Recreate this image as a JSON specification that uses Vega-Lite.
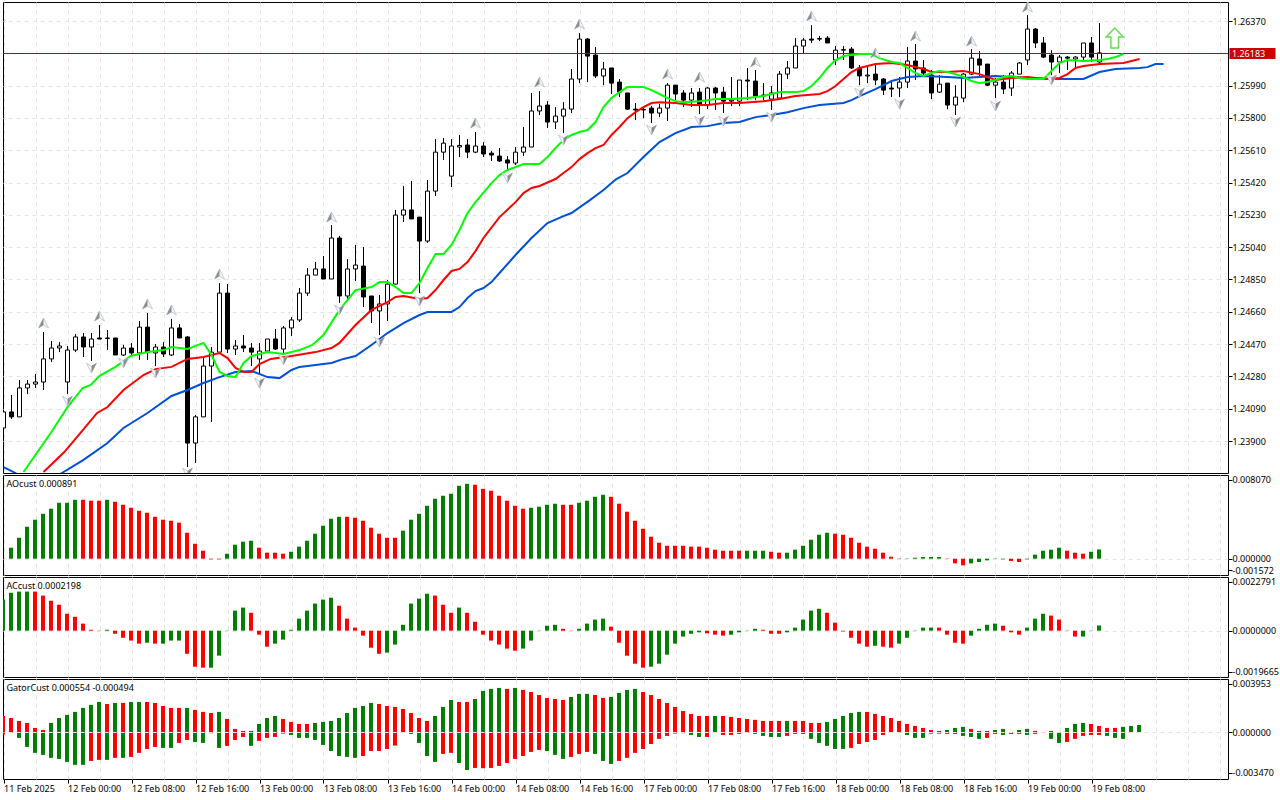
{"$schema":"https://vega.github.io/schema/vega-lite/v6.json","background":"#ffffff","padding":{"left":2,"top":1,"right":0,"bottom":0},"spacing":0,
"config":{"view":{"stroke":"#000000","strokeWidth":1},"font":"Noto Sans","axis":{"labelFont":"Noto Sans","labelFontSize":9,"labelColor":"#000000","tickColor":"#000000","domain":false,"title":null,"gridColor":"#e4e4e4","gridDash":[4,4],"gridWidth":1,"tickSize":4,"labelPadding":1,"labelOverlap":false}},
"datasets":{
"candles":[
{"i":0,"o":1.23977,"h":1.24071,"l":1.23977,"c":1.24071},{"i":1,"o":1.24071,"h":1.24171,"l":1.2403,"c":1.24042},{"i":2,"o":1.24042,"h":1.24259,"l":1.24042,"c":1.24212},{"i":3,"o":1.24212,"h":1.24259,"l":1.24176,"c":1.24235},{"i":4,"o":1.24235,"h":1.24294,"l":1.24212,"c":1.24247},{"i":5,"o":1.24247,"h":1.24541,"l":1.242,"c":1.24383},{"i":6,"o":1.24383,"h":1.24488,"l":1.24365,"c":1.24447},{"i":7,"o":1.24447,"h":1.24482,"l":1.24423,"c":1.24459},{"i":8,"o":1.24247,"h":1.24459,"l":1.24176,"c":1.24435},{"i":9,"o":1.24435,"h":1.24529,"l":1.24423,"c":1.24512},
{"i":10,"o":1.24512,"h":1.24535,"l":1.24394,"c":1.24453},{"i":11,"o":1.24453,"h":1.24535,"l":1.24371,"c":1.245},{"i":12,"o":1.24506,"h":1.24582,"l":1.245,"c":1.245},{"i":13,"o":1.24503,"h":1.24553,"l":1.24435,"c":1.24506},{"i":14,"o":1.24506,"h":1.24506,"l":1.24406,"c":1.24406},{"i":15,"o":1.24406,"h":1.24465,"l":1.244,"c":1.24447},{"i":16,"o":1.24447,"h":1.24477,"l":1.24406,"c":1.24418},{"i":17,"o":1.24418,"h":1.24606,"l":1.24377,"c":1.2457},{"i":18,"o":1.2457,"h":1.24653,"l":1.24377,"c":1.24423},{"i":19,"o":1.24418,"h":1.24471,"l":1.24341,"c":1.24453},
{"i":20,"o":1.24453,"h":1.24482,"l":1.24394,"c":1.24412},{"i":21,"o":1.24406,"h":1.24618,"l":1.244,"c":1.24565},{"i":22,"o":1.24565,"h":1.24588,"l":1.24506,"c":1.24506},{"i":23,"o":1.24512,"h":1.24517,"l":1.23747,"c":1.23888},{"i":24,"o":1.23888,"h":1.24053,"l":1.23771,"c":1.24042},{"i":25,"o":1.24042,"h":1.24394,"l":1.24042,"c":1.24341},{"i":26,"o":1.24341,"h":1.24453,"l":1.24012,"c":1.24423},{"i":27,"o":1.24423,"h":1.24829,"l":1.24423,"c":1.2477},{"i":28,"o":1.2477,"h":1.24823,"l":1.24418,"c":1.24441},{"i":29,"o":1.24441,"h":1.24494,"l":1.24406,"c":1.24459},
{"i":30,"o":1.24459,"h":1.24523,"l":1.24423,"c":1.24447},{"i":31,"o":1.24447,"h":1.24477,"l":1.24341,"c":1.24423},{"i":32,"o":1.24383,"h":1.24477,"l":1.24288,"c":1.24429},{"i":33,"o":1.24429,"h":1.245,"l":1.24429,"c":1.245},{"i":34,"o":1.245,"h":1.24559,"l":1.24435,"c":1.24441},{"i":35,"o":1.24441,"h":1.24576,"l":1.24406,"c":1.24565},{"i":36,"o":1.24565,"h":1.24629,"l":1.24517,"c":1.24612},{"i":37,"o":1.24612,"h":1.248,"l":1.246,"c":1.2477},{"i":38,"o":1.2477,"h":1.24917,"l":1.24753,"c":1.24876},{"i":39,"o":1.24876,"h":1.24953,"l":1.24876,"c":1.24912},
{"i":40,"o":1.24912,"h":1.24988,"l":1.24853,"c":1.24853},{"i":41,"o":1.24853,"h":1.2517,"l":1.24853,"c":1.25094},{"i":42,"o":1.25094,"h":1.25106,"l":1.24712,"c":1.24753},{"i":43,"o":1.24753,"h":1.2497,"l":1.24729,"c":1.24912},{"i":44,"o":1.24912,"h":1.25053,"l":1.24841,"c":1.24935},{"i":45,"o":1.24929,"h":1.25041,"l":1.24688,"c":1.24747},{"i":46,"o":1.24753,"h":1.24753,"l":1.24594,"c":1.24665},{"i":47,"o":1.24665,"h":1.24759,"l":1.24523,"c":1.24706},{"i":48,"o":1.24706,"h":1.24847,"l":1.24606,"c":1.24823},{"i":49,"o":1.24823,"h":1.25259,"l":1.24823,"c":1.25229},
{"i":50,"o":1.25229,"h":1.254,"l":1.25188,"c":1.25259},{"i":51,"o":1.25259,"h":1.25429,"l":1.25206,"c":1.25206},{"i":52,"o":1.25217,"h":1.25217,"l":1.2477,"c":1.25076},{"i":53,"o":1.25076,"h":1.25435,"l":1.25065,"c":1.2537},{"i":54,"o":1.2537,"h":1.25676,"l":1.25341,"c":1.25599},{"i":55,"o":1.25599,"h":1.25682,"l":1.25553,"c":1.25652},{"i":56,"o":1.25458,"h":1.25676,"l":1.25394,"c":1.25635},{"i":57,"o":1.25629,"h":1.257,"l":1.2557,"c":1.25638},{"i":58,"o":1.25641,"h":1.25676,"l":1.25564,"c":1.25599},{"i":59,"o":1.25599,"h":1.25717,"l":1.25593,"c":1.25635},
{"i":60,"o":1.25635,"h":1.25658,"l":1.2557,"c":1.25588},{"i":61,"o":1.25593,"h":1.25605,"l":1.25547,"c":1.25582},{"i":62,"o":1.25576,"h":1.25623,"l":1.25541,"c":1.25547},{"i":63,"o":1.25553,"h":1.25576,"l":1.255,"c":1.25535},{"i":64,"o":1.25535,"h":1.25629,"l":1.25523,"c":1.25599},{"i":65,"o":1.25599,"h":1.25747,"l":1.25576,"c":1.25629},{"i":66,"o":1.25629,"h":1.25947,"l":1.25629,"c":1.25841},{"i":67,"o":1.25841,"h":1.25958,"l":1.25817,"c":1.2587},{"i":68,"o":1.25876,"h":1.25899,"l":1.25741,"c":1.25776},{"i":69,"o":1.25776,"h":1.25864,"l":1.25735,"c":1.25811},
{"i":70,"o":1.25811,"h":1.25893,"l":1.25711,"c":1.25852},{"i":71,"o":1.25852,"h":1.26088,"l":1.25829,"c":1.26029},{"i":72,"o":1.26029,"h":1.26299,"l":1.26005,"c":1.26264},{"i":73,"o":1.26264,"h":1.2627,"l":1.26011,"c":1.26164},{"i":74,"o":1.2617,"h":1.26217,"l":1.26035,"c":1.26047},{"i":75,"o":1.26047,"h":1.26129,"l":1.25993,"c":1.26088},{"i":76,"o":1.26094,"h":1.26094,"l":1.25941,"c":1.26005},{"i":77,"o":1.26011,"h":1.26029,"l":1.25923,"c":1.25952},{"i":78,"o":1.25947,"h":1.25947,"l":1.25847,"c":1.25852},{"i":79,"o":1.25852,"h":1.25888,"l":1.25788,"c":1.25847},
{"i":80,"o":1.25847,"h":1.2587,"l":1.25799,"c":1.2585},{"i":81,"o":1.25858,"h":1.2587,"l":1.2577,"c":1.25829},{"i":82,"o":1.25829,"h":1.25882,"l":1.25805,"c":1.25858},{"i":83,"o":1.25858,"h":1.26005,"l":1.25782,"c":1.25993},{"i":84,"o":1.25993,"h":1.25993,"l":1.25905,"c":1.25941},{"i":85,"o":1.25947,"h":1.25964,"l":1.25864,"c":1.25905},{"i":86,"o":1.25905,"h":1.25976,"l":1.25864,"c":1.25947},{"i":87,"o":1.25952,"h":1.25976,"l":1.25823,"c":1.25876},{"i":88,"o":1.25876,"h":1.25982,"l":1.25852,"c":1.25976},{"i":89,"o":1.25976,"h":1.25982,"l":1.25847,"c":1.25947},
{"i":90,"o":1.25952,"h":1.25982,"l":1.25829,"c":1.25899},{"i":91,"o":1.25899,"h":1.26041,"l":1.2587,"c":1.25905},{"i":92,"o":1.25899,"h":1.26023,"l":1.2587,"c":1.26023},{"i":93,"o":1.26023,"h":1.26094,"l":1.25905,"c":1.26017},{"i":94,"o":1.26017,"h":1.26082,"l":1.25905,"c":1.25929},{"i":95,"o":1.25929,"h":1.26005,"l":1.25905,"c":1.25935},{"i":96,"o":1.25911,"h":1.25988,"l":1.25847,"c":1.25947},{"i":97,"o":1.25917,"h":1.26076,"l":1.25917,"c":1.26058},{"i":98,"o":1.26058,"h":1.26135,"l":1.26029,"c":1.26094},{"i":99,"o":1.26094,"h":1.2627,"l":1.26094,"c":1.26223},
{"i":100,"o":1.26223,"h":1.2627,"l":1.26182,"c":1.26258},{"i":101,"o":1.26264,"h":1.26346,"l":1.26241,"c":1.26258},{"i":102,"o":1.26267,"h":1.26282,"l":1.26252,"c":1.26264},{"i":103,"o":1.2627,"h":1.26282,"l":1.26241,"c":1.26241},{"i":104,"o":1.26141,"h":1.26223,"l":1.26111,"c":1.26199},{"i":105,"o":1.26202,"h":1.26223,"l":1.26141,"c":1.26199},{"i":106,"o":1.26205,"h":1.26217,"l":1.26088,"c":1.26094},{"i":107,"o":1.26094,"h":1.26111,"l":1.25993,"c":1.26047},{"i":108,"o":1.26047,"h":1.26111,"l":1.26005,"c":1.26052},{"i":109,"o":1.26058,"h":1.26123,"l":1.25993,"c":1.26023},
{"i":110,"o":1.26029,"h":1.26035,"l":1.25935,"c":1.25964},{"i":111,"o":1.25976,"h":1.26023,"l":1.25923,"c":1.2597},{"i":112,"o":1.25976,"h":1.26041,"l":1.25923,"c":1.26011},{"i":113,"o":1.26011,"h":1.26217,"l":1.25976,"c":1.26135},{"i":114,"o":1.26135,"h":1.26235,"l":1.26023,"c":1.26088},{"i":115,"o":1.26094,"h":1.26141,"l":1.26041,"c":1.26064},{"i":116,"o":1.26052,"h":1.26082,"l":1.25911,"c":1.25947},{"i":117,"o":1.25952,"h":1.26052,"l":1.25947,"c":1.25999},{"i":118,"o":1.26005,"h":1.26005,"l":1.25852,"c":1.25876},{"i":119,"o":1.25876,"h":1.25993,"l":1.25817,"c":1.25923},
{"i":120,"o":1.25917,"h":1.26064,"l":1.25893,"c":1.26058},{"i":121,"o":1.26058,"h":1.26205,"l":1.26052,"c":1.26152},{"i":122,"o":1.26147,"h":1.26194,"l":1.26035,"c":1.26111},{"i":123,"o":1.26117,"h":1.26117,"l":1.25988,"c":1.25993},{"i":124,"o":1.25993,"h":1.26035,"l":1.25917,"c":1.26011},{"i":125,"o":1.26011,"h":1.26052,"l":1.25941,"c":1.2597},{"i":126,"o":1.25976,"h":1.26076,"l":1.25929,"c":1.26064},{"i":127,"o":1.26058,"h":1.26129,"l":1.26058,"c":1.26123},{"i":128,"o":1.26141,"h":1.26405,"l":1.26111,"c":1.26323},{"i":129,"o":1.26323,"h":1.26329,"l":1.26211,"c":1.26241},
{"i":130,"o":1.26241,"h":1.26276,"l":1.26152,"c":1.26158},{"i":131,"o":1.2617,"h":1.26199,"l":1.26052,"c":1.26129},{"i":132,"o":1.26129,"h":1.2617,"l":1.26064,"c":1.26158},{"i":133,"o":1.26158,"h":1.26164,"l":1.26082,"c":1.26152},{"i":134,"o":1.26147,"h":1.26164,"l":1.26099,"c":1.26158},{"i":135,"o":1.26158,"h":1.26241,"l":1.26135,"c":1.26241},{"i":136,"o":1.26241,"h":1.26276,"l":1.26129,"c":1.26158},{"i":137,"o":1.26129,"h":1.26358,"l":1.26117,"c":1.26183}],
"lips":[{"i":2.5,"p":1.23718},{"i":5.9,"p":1.23947},{"i":8,"p":1.241},{"i":9.9,"p":1.24212},{"i":10.9,"p":1.2423},{"i":12,"p":1.24283},{"i":14,"p":1.24336},{"i":15.9,"p":1.244},{"i":18,"p":1.24423},{"i":20,"p":1.24435},{"i":21,"p":1.24453},{"i":23,"p":1.24441},{"i":25,"p":1.24477},{"i":26,"p":1.24406},{"i":27,"p":1.24306},{"i":28,"p":1.24283},{"i":29,"p":1.24276},{"i":30,"p":1.24359},{"i":31,"p":1.244},{"i":33,"p":1.24423},{"i":35,"p":1.24412},{"i":37,"p":1.24435},{"i":38.6,"p":1.24465},{"i":40,"p":1.24523},{"i":42,"p":1.24671},{"i":44,"p":1.24788},{"i":46,"p":1.24806},{"i":47,"p":1.24835},{"i":48,"p":1.24835},{"i":49,"p":1.24806},{"i":50,"p":1.2477},{"i":51,"p":1.2477},{"i":52,"p":1.24829},{"i":53,"p":1.24917},{"i":54,"p":1.25},{"i":55,"p":1.25},{"i":56,"p":1.25053},{"i":57,"p":1.25141},{"i":58,"p":1.25241},{"i":59,"p":1.25305},{"i":61,"p":1.25417},{"i":62,"p":1.25464},{"i":63,"p":1.25494},{"i":65,"p":1.25529},{"i":67,"p":1.25529},{"i":68,"p":1.2557},{"i":69,"p":1.25623},{"i":70,"p":1.2567},{"i":71,"p":1.257},{"i":72,"p":1.25717},{"i":73,"p":1.25729},{"i":74,"p":1.25776},{"i":75,"p":1.25864},{"i":76,"p":1.25917},{"i":77,"p":1.25952},{"i":78,"p":1.25982},{"i":79,"p":1.25982},{"i":80,"p":1.25982},{"i":81,"p":1.25964},{"i":82,"p":1.25941},{"i":83,"p":1.25917},{"i":84,"p":1.25899},{"i":85,"p":1.25893},{"i":87,"p":1.25899},{"i":89,"p":1.25911},{"i":91,"p":1.25911},{"i":93,"p":1.25917},{"i":95,"p":1.25929},{"i":97,"p":1.25952},{"i":99,"p":1.25952},{"i":100,"p":1.25958},{"i":101,"p":1.25988},{"i":102,"p":1.26035},{"i":103,"p":1.26094},{"i":104,"p":1.26141},{"i":105,"p":1.26164},{"i":106,"p":1.2617},{"i":107,"p":1.26176},{"i":108.5,"p":1.26176},{"i":109.5,"p":1.26152},{"i":111,"p":1.26129},{"i":112,"p":1.26123},{"i":113,"p":1.26094},{"i":114,"p":1.26064},{"i":115,"p":1.26047},{"i":116,"p":1.26064},{"i":117,"p":1.26076},{"i":118,"p":1.2607},{"i":119,"p":1.26058},{"i":120,"p":1.26041},{"i":121,"p":1.26017},{"i":122,"p":1.26005},{"i":123,"p":1.26011},{"i":124,"p":1.26023},{"i":125,"p":1.26041},{"i":126,"p":1.26047},{"i":127,"p":1.26035},{"i":128,"p":1.26029},{"i":130,"p":1.26029},{"i":131,"p":1.26076},{"i":132,"p":1.26123},{"i":133,"p":1.26141},{"i":135,"p":1.26135},{"i":137,"p":1.26141},{"i":138,"p":1.26147},{"i":139,"p":1.26158},{"i":140,"p":1.26176}],
"teeth":[{"i":5,"p":1.23718},{"i":7.6,"p":1.23835},{"i":9.6,"p":1.23947},{"i":11.7,"p":1.24065},{"i":13,"p":1.241},{"i":15,"p":1.242},{"i":17.5,"p":1.24288},{"i":19,"p":1.24323},{"i":21,"p":1.24336},{"i":23,"p":1.24383},{"i":25,"p":1.24394},{"i":27,"p":1.24418},{"i":28,"p":1.24388},{"i":29,"p":1.2433},{"i":30,"p":1.24306},{"i":31,"p":1.24306},{"i":32,"p":1.24353},{"i":33.4,"p":1.24383},{"i":36,"p":1.244},{"i":39,"p":1.24423},{"i":41,"p":1.24447},{"i":42,"p":1.24477},{"i":44,"p":1.24582},{"i":46,"p":1.24671},{"i":48,"p":1.24717},{"i":49,"p":1.24747},{"i":50,"p":1.24753},{"i":52,"p":1.24735},{"i":53,"p":1.24741},{"i":54,"p":1.24788},{"i":55,"p":1.24847},{"i":56,"p":1.249},{"i":57,"p":1.24912},{"i":58,"p":1.24953},{"i":59,"p":1.25017},{"i":60,"p":1.25094},{"i":62,"p":1.25217},{"i":64,"p":1.25305},{"i":65,"p":1.25358},{"i":66,"p":1.25388},{"i":67,"p":1.254},{"i":69,"p":1.25441},{"i":70,"p":1.25476},{"i":71,"p":1.25511},{"i":72,"p":1.25558},{"i":73,"p":1.25593},{"i":74,"p":1.25623},{"i":75,"p":1.25641},{"i":76,"p":1.257},{"i":77,"p":1.25747},{"i":78,"p":1.25799},{"i":79,"p":1.25834},{"i":80,"p":1.25864},{"i":81,"p":1.25888},{"i":82,"p":1.25893},{"i":84,"p":1.25888},{"i":86,"p":1.25876},{"i":88,"p":1.25876},{"i":90,"p":1.25888},{"i":92,"p":1.25888},{"i":95,"p":1.25899},{"i":97,"p":1.25911},{"i":99,"p":1.25929},{"i":102,"p":1.25941},{"i":103,"p":1.25958},{"i":104,"p":1.25988},{"i":105,"p":1.26029},{"i":106,"p":1.2607},{"i":107,"p":1.26094},{"i":109,"p":1.26117},{"i":111,"p":1.26123},{"i":113,"p":1.26111},{"i":115,"p":1.26088},{"i":116,"p":1.2607},{"i":118,"p":1.2607},{"i":120,"p":1.26076},{"i":122,"p":1.26058},{"i":124,"p":1.26023},{"i":126,"p":1.26035},{"i":128,"p":1.26041},{"i":130,"p":1.26029},{"i":132,"p":1.26035},{"i":133,"p":1.26058},{"i":134,"p":1.26094},{"i":135,"p":1.26105},{"i":137,"p":1.26117},{"i":140,"p":1.26123},{"i":141,"p":1.26135},{"i":142,"p":1.26147}],
"jaw":[{"i":0,"p":1.23747},{"i":1.5,"p":1.23712},{"i":3,"p":1.23659},{"i":5,"p":1.23647},{"i":7.3,"p":1.23712},{"i":10,"p":1.23789},{"i":13,"p":1.23888},{"i":15,"p":1.23977},{"i":18,"p":1.24065},{"i":21,"p":1.24165},{"i":23,"p":1.242},{"i":25,"p":1.24241},{"i":27,"p":1.24276},{"i":29,"p":1.24306},{"i":31,"p":1.24312},{"i":33,"p":1.24276},{"i":34.5,"p":1.2427},{"i":36,"p":1.24318},{"i":37,"p":1.24336},{"i":39,"p":1.24347},{"i":41,"p":1.24359},{"i":42.5,"p":1.24383},{"i":44,"p":1.244},{"i":46,"p":1.24465},{"i":48,"p":1.24535},{"i":50,"p":1.24594},{"i":52,"p":1.24641},{"i":53,"p":1.24659},{"i":56,"p":1.24659},{"i":57,"p":1.24688},{"i":58,"p":1.24741},{"i":59,"p":1.24782},{"i":60,"p":1.248},{"i":61,"p":1.24835},{"i":62,"p":1.24888},{"i":64,"p":1.24994},{"i":66,"p":1.25094},{"i":68,"p":1.25182},{"i":70,"p":1.25223},{"i":71,"p":1.25241},{"i":73.3,"p":1.25317},{"i":75,"p":1.25376},{"i":76.6,"p":1.25441},{"i":78,"p":1.25476},{"i":80,"p":1.2557},{"i":82,"p":1.25658},{"i":84,"p":1.25711},{"i":86,"p":1.25747},{"i":88,"p":1.25752},{"i":90,"p":1.2577},{"i":92,"p":1.25776},{"i":94,"p":1.25805},{"i":96,"p":1.25817},{"i":98,"p":1.25834},{"i":100,"p":1.25858},{"i":102,"p":1.25876},{"i":105,"p":1.25888},{"i":106,"p":1.25905},{"i":107,"p":1.25929},{"i":109,"p":1.2597},{"i":111,"p":1.26017},{"i":113,"p":1.26041},{"i":115,"p":1.26047},{"i":118,"p":1.26041},{"i":120,"p":1.26035},{"i":122,"p":1.26041},{"i":124,"p":1.26047},{"i":126,"p":1.26041},{"i":128,"p":1.26035},{"i":132,"p":1.26029},{"i":135,"p":1.26029},{"i":137,"p":1.2607},{"i":139,"p":1.26088},{"i":142,"p":1.26094},{"i":143,"p":1.26099},{"i":144,"p":1.26117},{"i":145,"p":1.26117}],
"upArrows":[{"i":5,"p":1.24594},{"i":12,"p":1.24635},{"i":18,"p":1.24706},{"i":21,"p":1.24671},{"i":27,"p":1.24882},{"i":41,"p":1.25217},{"i":59,"p":1.2577},{"i":67,"p":1.26011},{"i":72,"p":1.26352},{"i":83,"p":1.26058},{"i":87,"p":1.26041},{"i":94,"p":1.26129},{"i":101,"p":1.26399},{"i":109,"p":1.26182},{"i":114,"p":1.26282},{"i":121,"p":1.26252},{"i":128,"p":1.26452}],
"downArrows":[{"i":8,"p":1.24135},{"i":11,"p":1.24329},{"i":15,"p":1.24359},{"i":19,"p":1.243},{"i":23,"p":1.23712},{"i":32,"p":1.24241},{"i":35,"p":1.24377},{"i":42,"p":1.24671},{"i":47,"p":1.24482},{"i":52,"p":1.24723},{"i":63,"p":1.25447},{"i":70,"p":1.2567},{"i":81,"p":1.25729},{"i":87,"p":1.25782},{"i":90,"p":1.25782},{"i":96,"p":1.25805},{"i":107,"p":1.25947},{"i":112,"p":1.25882},{"i":119,"p":1.25776},{"i":124,"p":1.2587},{"i":131,"p":1.26023}],
"ao":[{"i":1,"v":0.00106,"c":"g"},{"i":2,"v":0.00202,"c":"g"},{"i":3,"v":0.00308,"c":"g"},{"i":4,"v":0.00376,"c":"g"},{"i":5,"v":0.00433,"c":"g"},{"i":6,"v":0.00482,"c":"g"},{"i":7,"v":0.00539,"c":"g"},{"i":8,"v":0.00539,"c":"g"},{"i":9,"v":0.00568,"c":"g"},{"i":10,"v":0.00568,"c":"r"},{"i":11,"v":0.00559,"c":"r"},{"i":12,"v":0.00559,"c":"r"},{"i":13,"v":0.00568,"c":"g"},{"i":14,"v":0.00549,"c":"r"},{"i":15,"v":0.0052,"c":"r"},{"i":16,"v":0.00491,"c":"r"},{"i":17,"v":0.00462,"c":"r"},{"i":18,"v":0.00443,"c":"r"},{"i":19,"v":0.00404,"c":"r"},{"i":20,"v":0.00376,"c":"r"},{"i":21,"v":0.00366,"c":"r"},{"i":22,"v":0.00347,"c":"r"},{"i":23,"v":0.0025,"c":"r"},{"i":24,"v":0.00144,"c":"r"},{"i":25,"v":0.00077,"c":"r"},{"i":26,"v":-0.00006,"c":"r"},{"i":27,"v":-0.00006,"c":"r"},{"i":28,"v":0.00048,"c":"g"},{"i":29,"v":0.00135,"c":"g"},{"i":30,"v":0.00164,"c":"g"},{"i":31,"v":0.00173,"c":"g"},{"i":32,"v":0.00106,"c":"r"},{"i":33,"v":0.00058,"c":"r"},{"i":34,"v":0.00058,"c":"r"},{"i":35,"v":0.00048,"c":"r"},{"i":36,"v":0.00067,"c":"g"},{"i":37,"v":0.00116,"c":"g"},{"i":38,"v":0.00173,"c":"g"},{"i":39,"v":0.00241,"c":"g"},{"i":40,"v":0.00318,"c":"g"},{"i":41,"v":0.00385,"c":"g"},{"i":42,"v":0.00404,"c":"g"},{"i":43,"v":0.00404,"c":"r"},{"i":44,"v":0.00395,"c":"r"},{"i":45,"v":0.00366,"c":"r"},{"i":46,"v":0.00299,"c":"r"},{"i":47,"v":0.00241,"c":"r"},{"i":48,"v":0.00202,"c":"r"},{"i":49,"v":0.00202,"c":"r"},{"i":50,"v":0.0027,"c":"g"},{"i":51,"v":0.00376,"c":"g"},{"i":52,"v":0.00433,"c":"g"},{"i":53,"v":0.0051,"c":"g"},{"i":54,"v":0.00578,"c":"g"},{"i":55,"v":0.00607,"c":"g"},{"i":56,"v":0.00626,"c":"g"},{"i":57,"v":0.00703,"c":"g"},{"i":58,"v":0.00722,"c":"g"},{"i":59,"v":0.00713,"c":"r"},{"i":60,"v":0.00674,"c":"r"},{"i":61,"v":0.00655,"c":"r"},{"i":62,"v":0.00607,"c":"r"},{"i":63,"v":0.00559,"c":"r"},{"i":64,"v":0.0051,"c":"r"},{"i":65,"v":0.00482,"c":"r"},{"i":66,"v":0.00491,"c":"g"},{"i":67,"v":0.00501,"c":"g"},{"i":68,"v":0.0052,"c":"g"},{"i":69,"v":0.0053,"c":"g"},{"i":70,"v":0.0052,"c":"r"},{"i":71,"v":0.0052,"c":"r"},{"i":72,"v":0.00539,"c":"g"},{"i":73,"v":0.00559,"c":"g"},{"i":74,"v":0.00597,"c":"g"},{"i":75,"v":0.00616,"c":"g"},{"i":76,"v":0.00597,"c":"r"},{"i":77,"v":0.0053,"c":"r"},{"i":78,"v":0.00453,"c":"r"},{"i":79,"v":0.00366,"c":"r"},{"i":80,"v":0.00289,"c":"r"},{"i":81,"v":0.00212,"c":"r"},{"i":82,"v":0.00154,"c":"r"},{"i":83,"v":0.00125,"c":"r"},{"i":84,"v":0.00125,"c":"r"},{"i":85,"v":0.00125,"c":"r"},{"i":86,"v":0.00116,"c":"r"},{"i":87,"v":0.00116,"c":"r"},{"i":88,"v":0.00106,"c":"r"},{"i":89,"v":0.00087,"c":"r"},{"i":90,"v":0.00077,"c":"r"},{"i":91,"v":0.00077,"c":"r"},{"i":92,"v":0.00077,"c":"r"},{"i":93,"v":0.00077,"c":"g"},{"i":94,"v":0.00077,"c":"g"},{"i":95,"v":0.00077,"c":"g"},{"i":96,"v":0.00067,"c":"r"},{"i":97,"v":0.00058,"c":"r"},{"i":98,"v":0.00058,"c":"g"},{"i":99,"v":0.00087,"c":"g"},{"i":100,"v":0.00125,"c":"g"},{"i":101,"v":0.00183,"c":"g"},{"i":102,"v":0.00231,"c":"g"},{"i":103,"v":0.0025,"c":"g"},{"i":104,"v":0.00241,"c":"r"},{"i":105,"v":0.00231,"c":"r"},{"i":106,"v":0.00202,"c":"r"},{"i":107,"v":0.00154,"c":"r"},{"i":108,"v":0.00116,"c":"r"},{"i":109,"v":0.00096,"c":"r"},{"i":110,"v":0.00058,"c":"r"},{"i":111,"v":0.00019,"c":"r"},{"i":112,"v":0.00003,"c":"r"},{"i":113,"v":-0.00003,"c":"g"},{"i":114,"v":0.0001,"c":"g"},{"i":115,"v":0.00016,"c":"g"},{"i":116,"v":0.00016,"c":"g"},{"i":117,"v":0.00016,"c":"g"},{"i":118,"v":-0.00003,"c":"r"},{"i":119,"v":-0.00045,"c":"r"},{"i":120,"v":-0.00064,"c":"r"},{"i":121,"v":-0.00045,"c":"g"},{"i":122,"v":-0.00032,"c":"g"},{"i":123,"v":-0.00016,"c":"g"},{"i":124,"v":-0.00003,"c":"g"},{"i":125,"v":-0.00006,"c":"g"},{"i":126,"v":-0.00022,"c":"r"},{"i":127,"v":-0.00032,"c":"r"},{"i":128,"v":-0.00006,"c":"g"},{"i":129,"v":0.00039,"c":"g"},{"i":130,"v":0.00077,"c":"g"},{"i":131,"v":0.00087,"c":"g"},{"i":132,"v":0.00106,"c":"g"},{"i":133,"v":0.00077,"c":"r"},{"i":134,"v":0.00058,"c":"r"},{"i":135,"v":0.00048,"c":"r"},{"i":136,"v":0.00067,"c":"g"},{"i":137,"v":0.00089,"c":"g"}],
"ac":[{"i":0,"v":0.00132,"c":"g"},{"i":1,"v":0.00161,"c":"g"},{"i":2,"v":0.00166,"c":"g"},{"i":3,"v":0.00166,"c":"g"},{"i":4,"v":0.00166,"c":"r"},{"i":5,"v":0.00149,"c":"r"},{"i":6,"v":0.00127,"c":"r"},{"i":7,"v":0.0011,"c":"r"},{"i":8,"v":0.00072,"c":"r"},{"i":9,"v":0.00059,"c":"r"},{"i":10,"v":0.0003,"c":"r"},{"i":11,"v":0.00004,"c":"r"},{"i":12,"v":0.00001,"c":"r"},{"i":13,"v":0.00004,"c":"g"},{"i":14,"v":-0.00013,"c":"r"},{"i":15,"v":-0.0003,"c":"r"},{"i":16,"v":-0.00042,"c":"r"},{"i":17,"v":-0.00055,"c":"r"},{"i":18,"v":-0.00051,"c":"g"},{"i":19,"v":-0.00055,"c":"r"},{"i":20,"v":-0.00055,"c":"g"},{"i":21,"v":-0.00042,"c":"g"},{"i":22,"v":-0.00042,"c":"g"},{"i":23,"v":-0.00098,"c":"r"},{"i":24,"v":-0.00153,"c":"r"},{"i":25,"v":-0.00157,"c":"r"},{"i":26,"v":-0.00157,"c":"g"},{"i":27,"v":-0.00106,"c":"g"},{"i":28,"v":-0.00001,"c":"g"},{"i":29,"v":0.00085,"c":"g"},{"i":30,"v":0.00098,"c":"g"},{"i":31,"v":0.00076,"c":"r"},{"i":32,"v":-0.00017,"c":"r"},{"i":33,"v":-0.00068,"c":"r"},{"i":34,"v":-0.00055,"c":"g"},{"i":35,"v":-0.00038,"c":"g"},{"i":36,"v":0.00004,"c":"g"},{"i":37,"v":0.00051,"c":"g"},{"i":38,"v":0.00085,"c":"g"},{"i":39,"v":0.00115,"c":"g"},{"i":40,"v":0.00132,"c":"g"},{"i":41,"v":0.0014,"c":"g"},{"i":42,"v":0.00106,"c":"r"},{"i":43,"v":0.00051,"c":"r"},{"i":44,"v":0.00013,"c":"r"},{"i":45,"v":-0.00021,"c":"r"},{"i":46,"v":-0.00072,"c":"r"},{"i":47,"v":-0.00098,"c":"r"},{"i":48,"v":-0.00093,"c":"g"},{"i":49,"v":-0.00059,"c":"g"},{"i":50,"v":0.00025,"c":"g"},{"i":51,"v":0.00115,"c":"g"},{"i":52,"v":0.00136,"c":"g"},{"i":53,"v":0.00157,"c":"g"},{"i":54,"v":0.00149,"c":"r"},{"i":55,"v":0.0011,"c":"r"},{"i":56,"v":0.00076,"c":"r"},{"i":57,"v":0.00098,"c":"g"},{"i":58,"v":0.00076,"c":"r"},{"i":59,"v":0.00038,"c":"r"},{"i":60,"v":-0.00017,"c":"r"},{"i":61,"v":-0.00042,"c":"r"},{"i":62,"v":-0.00059,"c":"r"},{"i":63,"v":-0.00076,"c":"r"},{"i":64,"v":-0.00085,"c":"r"},{"i":65,"v":-0.00076,"c":"g"},{"i":66,"v":-0.00042,"c":"g"},{"i":67,"v":-0.00001,"c":"g"},{"i":68,"v":0.00021,"c":"g"},{"i":69,"v":0.00025,"c":"g"},{"i":70,"v":0.00008,"c":"r"},{"i":71,"v":-0.00001,"c":"r"},{"i":72,"v":0.00008,"c":"g"},{"i":73,"v":0.0003,"c":"g"},{"i":74,"v":0.00047,"c":"g"},{"i":75,"v":0.00051,"c":"g"},{"i":76,"v":0.00017,"c":"r"},{"i":77,"v":-0.00051,"c":"r"},{"i":78,"v":-0.00106,"c":"r"},{"i":79,"v":-0.0014,"c":"r"},{"i":80,"v":-0.00157,"c":"r"},{"i":81,"v":-0.00153,"c":"g"},{"i":82,"v":-0.0014,"c":"g"},{"i":83,"v":-0.00102,"c":"g"},{"i":84,"v":-0.00055,"c":"g"},{"i":85,"v":-0.00025,"c":"g"},{"i":86,"v":-0.00013,"c":"g"},{"i":87,"v":-0.00007,"c":"g"},{"i":88,"v":-0.00011,"c":"r"},{"i":89,"v":-0.00017,"c":"r"},{"i":90,"v":-0.00021,"c":"r"},{"i":91,"v":-0.00017,"c":"g"},{"i":92,"v":-0.00007,"c":"g"},{"i":93,"v":-0.00001,"c":"g"},{"i":94,"v":0.00008,"c":"g"},{"i":95,"v":0.00004,"c":"r"},{"i":96,"v":-0.00013,"c":"r"},{"i":97,"v":-0.00013,"c":"r"},{"i":98,"v":-0.00007,"c":"g"},{"i":99,"v":0.00013,"c":"g"},{"i":100,"v":0.00047,"c":"g"},{"i":101,"v":0.00085,"c":"g"},{"i":102,"v":0.00093,"c":"g"},{"i":103,"v":0.00076,"c":"r"},{"i":104,"v":0.00034,"c":"r"},{"i":105,"v":-0.00003,"c":"r"},{"i":106,"v":-0.0003,"c":"r"},{"i":107,"v":-0.00055,"c":"r"},{"i":108,"v":-0.00068,"c":"r"},{"i":109,"v":-0.00064,"c":"g"},{"i":110,"v":-0.00068,"c":"r"},{"i":111,"v":-0.00072,"c":"r"},{"i":112,"v":-0.00055,"c":"g"},{"i":113,"v":-0.0003,"c":"g"},{"i":114,"v":-0.00001,"c":"g"},{"i":115,"v":0.00013,"c":"g"},{"i":116,"v":0.00013,"c":"g"},{"i":117,"v":0.00013,"c":"r"},{"i":118,"v":-0.00017,"c":"r"},{"i":119,"v":-0.00051,"c":"r"},{"i":120,"v":-0.00055,"c":"r"},{"i":121,"v":-0.00021,"c":"g"},{"i":122,"v":0.00008,"c":"g"},{"i":123,"v":0.00025,"c":"g"},{"i":124,"v":0.0003,"c":"g"},{"i":125,"v":0.00021,"c":"r"},{"i":126,"v":-0.00007,"c":"r"},{"i":127,"v":-0.00017,"c":"r"},{"i":128,"v":0.00013,"c":"g"},{"i":129,"v":0.00051,"c":"g"},{"i":130,"v":0.00072,"c":"g"},{"i":131,"v":0.00064,"c":"r"},{"i":132,"v":0.00047,"c":"r"},{"i":133,"v":-0.00001,"c":"r"},{"i":134,"v":-0.00025,"c":"r"},{"i":135,"v":-0.00025,"c":"g"},{"i":136,"v":-0.00001,"c":"g"},{"i":137,"v":0.00022,"c":"g"}],
"gator":[{"i":0,"v":0.00121,"c":"r"},{"i":1,"v":0.00106,"c":"r"},{"i":2,"v":0.00084,"c":"r"},{"i":3,"v":0.00069,"c":"r"},{"i":4,"v":0.00032,"c":"r"},{"i":5,"v":0.00017,"c":"r"},{"i":6,"v":0.00069,"c":"g"},{"i":7,"v":0.00106,"c":"g"},{"i":8,"v":0.00129,"c":"g"},{"i":9,"v":0.00151,"c":"g"},{"i":10,"v":0.00181,"c":"g"},{"i":11,"v":0.00203,"c":"g"},{"i":12,"v":0.00225,"c":"g"},{"i":13,"v":0.0021,"c":"r"},{"i":14,"v":0.00218,"c":"g"},{"i":15,"v":0.00218,"c":"r"},{"i":16,"v":0.00225,"c":"g"},{"i":17,"v":0.00225,"c":"g"},{"i":18,"v":0.00225,"c":"r"},{"i":19,"v":0.00218,"c":"r"},{"i":20,"v":0.00195,"c":"r"},{"i":21,"v":0.00181,"c":"r"},{"i":22,"v":0.00181,"c":"r"},{"i":23,"v":0.00181,"c":"g"},{"i":24,"v":0.00166,"c":"r"},{"i":25,"v":0.00151,"c":"r"},{"i":26,"v":0.00143,"c":"r"},{"i":27,"v":0.00151,"c":"g"},{"i":28,"v":0.00099,"c":"r"},{"i":29,"v":0.00025,"c":"r"},{"i":30,"v":0.0001,"c":"r"},{"i":31,"v":0.0001,"c":"r"},{"i":32,"v":0.00062,"c":"g"},{"i":33,"v":0.00106,"c":"g"},{"i":34,"v":0.00121,"c":"g"},{"i":35,"v":0.00099,"c":"r"},{"i":36,"v":0.00077,"c":"r"},{"i":37,"v":0.00062,"c":"r"},{"i":38,"v":0.00062,"c":"r"},{"i":39,"v":0.00069,"c":"g"},{"i":40,"v":0.00077,"c":"g"},{"i":41,"v":0.00084,"c":"g"},{"i":42,"v":0.00106,"c":"g"},{"i":43,"v":0.00143,"c":"g"},{"i":44,"v":0.00181,"c":"g"},{"i":45,"v":0.00195,"c":"g"},{"i":46,"v":0.00218,"c":"g"},{"i":47,"v":0.0021,"c":"r"},{"i":48,"v":0.00195,"c":"r"},{"i":49,"v":0.00188,"c":"r"},{"i":50,"v":0.00173,"c":"r"},{"i":51,"v":0.00143,"c":"r"},{"i":52,"v":0.00106,"c":"r"},{"i":53,"v":0.00084,"c":"r"},{"i":54,"v":0.00121,"c":"g"},{"i":55,"v":0.00188,"c":"g"},{"i":56,"v":0.0024,"c":"g"},{"i":57,"v":0.00225,"c":"r"},{"i":58,"v":0.00225,"c":"r"},{"i":59,"v":0.00247,"c":"g"},{"i":60,"v":0.00307,"c":"g"},{"i":61,"v":0.00322,"c":"g"},{"i":62,"v":0.00329,"c":"g"},{"i":63,"v":0.00322,"c":"r"},{"i":64,"v":0.00329,"c":"g"},{"i":65,"v":0.00314,"c":"r"},{"i":66,"v":0.00299,"c":"r"},{"i":67,"v":0.00277,"c":"r"},{"i":68,"v":0.00255,"c":"r"},{"i":69,"v":0.00247,"c":"r"},{"i":70,"v":0.0024,"c":"r"},{"i":71,"v":0.00262,"c":"g"},{"i":72,"v":0.00285,"c":"g"},{"i":73,"v":0.00285,"c":"g"},{"i":74,"v":0.00277,"c":"r"},{"i":75,"v":0.00255,"c":"r"},{"i":76,"v":0.00262,"c":"g"},{"i":77,"v":0.00292,"c":"g"},{"i":78,"v":0.00314,"c":"g"},{"i":79,"v":0.00322,"c":"g"},{"i":80,"v":0.00299,"c":"r"},{"i":81,"v":0.00277,"c":"r"},{"i":82,"v":0.00247,"c":"r"},{"i":83,"v":0.00218,"c":"r"},{"i":84,"v":0.00188,"c":"r"},{"i":85,"v":0.00158,"c":"r"},{"i":86,"v":0.00136,"c":"r"},{"i":87,"v":0.00121,"c":"r"},{"i":88,"v":0.00121,"c":"r"},{"i":89,"v":0.00121,"c":"g"},{"i":90,"v":0.00121,"c":"r"},{"i":91,"v":0.00114,"c":"r"},{"i":92,"v":0.00106,"c":"r"},{"i":93,"v":0.00099,"c":"r"},{"i":94,"v":0.00092,"c":"r"},{"i":95,"v":0.00084,"c":"r"},{"i":96,"v":0.00084,"c":"r"},{"i":97,"v":0.00084,"c":"r"},{"i":98,"v":0.00084,"c":"g"},{"i":99,"v":0.00084,"c":"r"},{"i":100,"v":0.00084,"c":"r"},{"i":101,"v":0.00069,"c":"r"},{"i":102,"v":0.00069,"c":"r"},{"i":103,"v":0.00077,"c":"g"},{"i":104,"v":0.00099,"c":"g"},{"i":105,"v":0.00121,"c":"g"},{"i":106,"v":0.00143,"c":"g"},{"i":107,"v":0.00151,"c":"g"},{"i":108,"v":0.00151,"c":"r"},{"i":109,"v":0.00136,"c":"r"},{"i":110,"v":0.00121,"c":"r"},{"i":111,"v":0.00106,"c":"r"},{"i":112,"v":0.00084,"c":"r"},{"i":113,"v":0.00062,"c":"r"},{"i":114,"v":0.00047,"c":"r"},{"i":115,"v":0.00032,"c":"r"},{"i":116,"v":0.00017,"c":"r"},{"i":117,"v":0.0001,"c":"r"},{"i":118,"v":0.00017,"c":"g"},{"i":119,"v":0.00032,"c":"g"},{"i":120,"v":0.0004,"c":"g"},{"i":121,"v":0.00025,"c":"r"},{"i":122,"v":0.0001,"c":"r"},{"i":123,"v":0.0001,"c":"r"},{"i":124,"v":0.00017,"c":"g"},{"i":125,"v":0.00025,"c":"g"},{"i":126,"v":0.00002,"c":"r"},{"i":127,"v":0.00017,"c":"g"},{"i":128,"v":0.00025,"c":"g"},{"i":129,"v":0.0001,"c":"r"},{"i":130,"v":0.00002,"c":"r"},{"i":131,"v":0.0001,"c":"g"},{"i":133,"v":0.00032,"c":"g"},{"i":134,"v":0.00062,"c":"g"},{"i":135,"v":0.00069,"c":"g"},{"i":136,"v":0.00062,"c":"r"},{"i":137,"v":0.00047,"c":"r"},{"i":138,"v":0.00032,"c":"r"},{"i":139,"v":0.00032,"c":"r"},{"i":140,"v":0.0004,"c":"g"},{"i":141,"v":0.00047,"c":"g"},{"i":142,"v":0.00054,"c":"g"},
{"i":0,"v":-0.00017,"c":"r"},{"i":1,"v":-0.00005,"c":"r"},{"i":2,"v":-0.00042,"c":"g"},{"i":3,"v":-0.00109,"c":"g"},{"i":4,"v":-0.00153,"c":"g"},{"i":5,"v":-0.00168,"c":"g"},{"i":6,"v":-0.0019,"c":"g"},{"i":7,"v":-0.00198,"c":"g"},{"i":8,"v":-0.0022,"c":"g"},{"i":9,"v":-0.00242,"c":"g"},{"i":10,"v":-0.00242,"c":"g"},{"i":11,"v":-0.00213,"c":"r"},{"i":12,"v":-0.00205,"c":"r"},{"i":13,"v":-0.00205,"c":"g"},{"i":14,"v":-0.0019,"c":"r"},{"i":15,"v":-0.0019,"c":"g"},{"i":16,"v":-0.00183,"c":"r"},{"i":17,"v":-0.00153,"c":"r"},{"i":18,"v":-0.00124,"c":"r"},{"i":19,"v":-0.00109,"c":"r"},{"i":20,"v":-0.00116,"c":"g"},{"i":21,"v":-0.00116,"c":"g"},{"i":22,"v":-0.00079,"c":"r"},{"i":23,"v":-0.00057,"c":"r"},{"i":24,"v":-0.00072,"c":"g"},{"i":25,"v":-0.00079,"c":"g"},{"i":26,"v":-0.00007,"c":"r"},{"i":27,"v":-0.00116,"c":"g"},{"i":28,"v":-0.00101,"c":"r"},{"i":29,"v":-0.00057,"c":"r"},{"i":30,"v":-0.00035,"c":"r"},{"i":31,"v":-0.00101,"c":"g"},{"i":32,"v":-0.00064,"c":"r"},{"i":33,"v":-0.00042,"c":"r"},{"i":34,"v":-0.00035,"c":"r"},{"i":35,"v":-0.0001,"c":"r"},{"i":36,"v":-0.0002,"c":"g"},{"i":37,"v":-0.00042,"c":"g"},{"i":38,"v":-0.00042,"c":"g"},{"i":39,"v":-0.00057,"c":"g"},{"i":40,"v":-0.00094,"c":"g"},{"i":41,"v":-0.00139,"c":"g"},{"i":42,"v":-0.00176,"c":"g"},{"i":43,"v":-0.00183,"c":"g"},{"i":44,"v":-0.0019,"c":"g"},{"i":45,"v":-0.00176,"c":"r"},{"i":46,"v":-0.00139,"c":"r"},{"i":47,"v":-0.00139,"c":"r"},{"i":48,"v":-0.00124,"c":"r"},{"i":49,"v":-0.00099,"c":"r"},{"i":50,"v":-0.00002,"c":"r"},{"i":51,"v":-0.00012,"c":"g"},{"i":52,"v":-0.00079,"c":"g"},{"i":53,"v":-0.00176,"c":"g"},{"i":54,"v":-0.0022,"c":"g"},{"i":55,"v":-0.00161,"c":"r"},{"i":56,"v":-0.00153,"c":"r"},{"i":57,"v":-0.00228,"c":"g"},{"i":58,"v":-0.0028,"c":"g"},{"i":59,"v":-0.00265,"c":"r"},{"i":60,"v":-0.00267,"c":"r"},{"i":61,"v":-0.00265,"c":"r"},{"i":62,"v":-0.0025,"c":"r"},{"i":63,"v":-0.00228,"c":"r"},{"i":64,"v":-0.00198,"c":"r"},{"i":65,"v":-0.00176,"c":"r"},{"i":66,"v":-0.00146,"c":"r"},{"i":67,"v":-0.00131,"c":"r"},{"i":68,"v":-0.00139,"c":"g"},{"i":69,"v":-0.00168,"c":"g"},{"i":70,"v":-0.00198,"c":"g"},{"i":71,"v":-0.00183,"c":"r"},{"i":72,"v":-0.00161,"c":"r"},{"i":73,"v":-0.00146,"c":"r"},{"i":74,"v":-0.00161,"c":"g"},{"i":75,"v":-0.00213,"c":"g"},{"i":76,"v":-0.00235,"c":"g"},{"i":77,"v":-0.00213,"c":"r"},{"i":78,"v":-0.0019,"c":"r"},{"i":79,"v":-0.00153,"c":"r"},{"i":80,"v":-0.00124,"c":"r"},{"i":81,"v":-0.00087,"c":"r"},{"i":82,"v":-0.00049,"c":"r"},{"i":83,"v":-0.00027,"c":"r"},{"i":84,"v":-0.0001,"c":"r"},{"i":85,"v":-0.00007,"c":"r"},{"i":86,"v":-0.0002,"c":"g"},{"i":87,"v":-0.00035,"c":"g"},{"i":88,"v":-0.00035,"c":"r"},{"i":89,"v":-0.00002,"c":"g"},{"i":90,"v":-0.0002,"c":"r"},{"i":91,"v":-0.0002,"c":"r"},{"i":92,"v":-0.00012,"c":"r"},{"i":93,"v":-0.00005,"c":"r"},{"i":94,"v":-0.00012,"c":"g"},{"i":95,"v":-0.00027,"c":"g"},{"i":96,"v":-0.00035,"c":"g"},{"i":97,"v":-0.00035,"c":"g"},{"i":98,"v":-0.00027,"c":"r"},{"i":99,"v":-0.00012,"c":"r"},{"i":100,"v":-0.00012,"c":"r"},{"i":101,"v":-0.00049,"c":"g"},{"i":102,"v":-0.00079,"c":"g"},{"i":103,"v":-0.00101,"c":"g"},{"i":104,"v":-0.00124,"c":"g"},{"i":105,"v":-0.00124,"c":"g"},{"i":106,"v":-0.00116,"c":"r"},{"i":107,"v":-0.00087,"c":"r"},{"i":108,"v":-0.00072,"c":"r"},{"i":109,"v":-0.00057,"c":"r"},{"i":110,"v":-0.0002,"c":"r"},{"i":111,"v":-0.00002,"c":"r"},{"i":112,"v":-0.00005,"c":"r"},{"i":113,"v":-0.0002,"c":"g"},{"i":114,"v":-0.00042,"c":"g"},{"i":115,"v":-0.00042,"c":"g"},{"i":116,"v":-0.0001,"c":"r"},{"i":117,"v":-0.0001,"c":"r"},{"i":118,"v":-0.00012,"c":"r"},{"i":119,"v":-0.00012,"c":"r"},{"i":120,"v":-0.00027,"c":"g"},{"i":121,"v":-0.00035,"c":"g"},{"i":122,"v":-0.00049,"c":"g"},{"i":123,"v":-0.00042,"c":"r"},{"i":124,"v":-0.00012,"c":"r"},{"i":125,"v":-0.0002,"c":"g"},{"i":126,"v":-0.00012,"c":"r"},{"i":127,"v":-0.00012,"c":"r"},{"i":128,"v":-0.0002,"c":"g"},{"i":129,"v":-0.00012,"c":"r"},{"i":130,"v":-0.00002,"c":"r"},{"i":131,"v":-0.00049,"c":"g"},{"i":132,"v":-0.00079,"c":"g"},{"i":133,"v":-0.00072,"c":"r"},{"i":134,"v":-0.00049,"c":"r"},{"i":135,"v":-0.00027,"c":"r"},{"i":136,"v":-0.0002,"c":"r"},{"i":137,"v":-0.0002,"c":"r"},{"i":138,"v":-0.00027,"c":"g"},{"i":139,"v":-0.00042,"c":"g"},{"i":140,"v":-0.00049,"c":"g"}]
},
"vconcat":[
{"width":1225,"height":471,
"encoding":{"x":{"field":"i","type":"quantitative","scale":{"domain":[-0.0625,153.0625],"nice":false,"zero":false,"padding":0},"axis":{"values":[0,4,8,12,16,20,24,28,32,36,40,44,48,52,56,60,64,68,72,76,80,84,88,92,96,100,104,108,112,116,120,124,128,132,136,140,144,148,152],"tickCount":60,"labels":false,"ticks":false,"grid":true,"title":null,"minExtent":0,"maxExtent":0}}},
"layer":[
{"data":{"name":"candles"},"mark":{"type":"rule","color":"#000000","strokeWidth":1,"clip":true},"encoding":{"y":{"field":"h","type":"quantitative","scale":{"domain":[1.23712,1.26482],"nice":false,"zero":false},"axis":{"orient":"right","values":[1.2637,1.2599,1.258,1.2561,1.2542,1.2523,1.2504,1.2485,1.2466,1.2447,1.2428,1.2409,1.239],"tickCount":20,"format":".5f","grid":true,"title":null,"labelOverlap":false,"labelBound":false,"labelPadding":0}},"y2":{"field":"l"}}},
{"data":{"name":"candles"},"mark":{"type":"bar","size":4,"stroke":"#000000","strokeWidth":1,"clip":true},"encoding":{"y":{"field":"o","type":"quantitative","scale":{"domain":[1.23712,1.26482],"nice":false,"zero":false}},"y2":{"field":"c"},"fill":{"condition":{"test":"datum.c<datum.o","value":"#000000"},"value":"#ffffff"}}},
{"data":{"values":[{"i":-0.0625,"i2":153.0625,"p":1.26179}]},"mark":{"type":"rule","color":"#c00000","strokeWidth":1},"encoding":{"x2":{"field":"i2"},"y":{"field":"p","type":"quantitative","scale":{"domain":[1.23712,1.26482],"nice":false,"zero":false}}}},
{"data":{"name":"jaw"},"mark":{"type":"line","color":"#0050d8","strokeWidth":2,"clip":true},"encoding":{"y":{"field":"p","type":"quantitative","scale":{"domain":[1.23712,1.26482],"nice":false,"zero":false}}}},
{"data":{"name":"teeth"},"mark":{"type":"line","color":"#ff0000","strokeWidth":2,"clip":true},"encoding":{"y":{"field":"p","type":"quantitative","scale":{"domain":[1.23712,1.26482],"nice":false,"zero":false}}}},
{"data":{"name":"lips"},"mark":{"type":"line","color":"#00ff00","strokeWidth":2,"clip":true},"encoding":{"y":{"field":"p","type":"quantitative","scale":{"domain":[1.23712,1.26482],"nice":false,"zero":false}}}},
{"data":{"name":"upArrows"},"mark":{"type":"point","shape":"M0,-1 L1,1 L0,0.4 L-1,1 Z","size":100,"filled":true,"fill":"#f4f6fa","stroke":"#c2cbdc","strokeWidth":1,"opacity":1,"clip":true},"encoding":{"y":{"field":"p","type":"quantitative","scale":{"domain":[1.23712,1.26482],"nice":false,"zero":false}}}},
{"data":{"name":"upArrows"},"mark":{"type":"point","shape":"M0,-1 L0,0.4 L-1,1 Z","size":100,"filled":true,"fill":"#8c8c8c","opacity":1,"clip":true},"encoding":{"y":{"field":"p","type":"quantitative","scale":{"domain":[1.23712,1.26482],"nice":false,"zero":false}}}},
{"data":{"name":"downArrows"},"mark":{"type":"point","shape":"M0,1 L1,-1 L0,-0.4 L-1,-1 Z","size":100,"filled":true,"fill":"#f4f6fa","stroke":"#c2cbdc","strokeWidth":1,"opacity":1,"clip":true},"encoding":{"y":{"field":"p","type":"quantitative","scale":{"domain":[1.23712,1.26482],"nice":false,"zero":false}}}},
{"data":{"name":"downArrows"},"mark":{"type":"point","shape":"M0,1 L1,-1 L0,-0.4 Z","size":100,"filled":true,"fill":"#8c8c8c","opacity":1,"clip":true},"encoding":{"y":{"field":"p","type":"quantitative","scale":{"domain":[1.23712,1.26482],"nice":false,"zero":false}}}},
{"data":{"values":[{"i":138.9,"p":1.2627}]},"mark":{"type":"point","shape":"M0,-1 L0.85,-0.1 L0.38,-0.1 L0.38,1 L-0.38,1 L-0.38,-0.1 L-0.85,-0.1 Z","size":400,"filled":true,"fill":"#ffffff","stroke":"#66dd55","strokeWidth":1.5,"opacity":1},"encoding":{"y":{"field":"p","type":"quantitative","scale":{"domain":[1.23712,1.26482],"nice":false,"zero":false}}}},
{"data":{"values":[{"i":153.25,"i2":159,"p":1.26211,"p2":1.26147}]},"mark":{"type":"rect","color":"#cc0000"},"encoding":{"x2":{"field":"i2"},"y":{"field":"p","type":"quantitative","scale":{"domain":[1.23712,1.26482],"nice":false,"zero":false}},"y2":{"field":"p2"}}},
{"data":{"values":[{"i":153.55,"p":1.26179,"t":"1.26183"}]},"mark":{"type":"text","align":"left","baseline":"middle","fontSize":9,"color":"#ffffff","font":"Noto Sans"},"encoding":{"y":{"field":"p","type":"quantitative","scale":{"domain":[1.23712,1.26482],"nice":false,"zero":false}},"text":{"field":"t"}}}
]},
{"width":1225,"height":100,
"encoding":{"x":{"field":"i","type":"quantitative","scale":{"domain":[-0.0625,153.0625],"nice":false,"zero":false,"padding":0},"axis":{"values":[0,4,8,12,16,20,24,28,32,36,40,44,48,52,56,60,64,68,72,76,80,84,88,92,96,100,104,108,112,116,120,124,128,132,136,140,144,148,152],"tickCount":60,"labels":false,"ticks":false,"grid":true,"title":null,"minExtent":0,"maxExtent":0}}},
"layer":[
{"data":{"name":"ao"},"mark":{"type":"bar","size":4,"orient":"vertical","xOffset":-0.5,"clip":true},"encoding":{"y":{"field":"v","type":"quantitative","stack":null,"scale":{"domain":[-0.001572,0.00807],"nice":false},"axis":{"orient":"right","values":[0.00762,0,-0.00109],"tickCount":5,"labelExpr":"datum.value>0.005?'0.008070':datum.value<-0.0005?'-0.001572':'0.000000'","grid":true,"gridOpacity":{"condition":{"test":"datum.value==0","value":1},"value":0},"title":null,"labelOverlap":false,"labelPadding":0}},"color":{"field":"c","type":"nominal","scale":{"domain":["g","r"],"range":["#008000","#ff0000"]},"legend":null}}},
{"data":{"values":[{"i":0.375,"v":0.00723,"t":"AOcust 0.000891"}]},"mark":{"type":"text","align":"left","baseline":"middle","fontSize":9,"color":"#000000","font":"Noto Sans"},"encoding":{"y":{"field":"v","type":"quantitative","scale":{"domain":[-0.001572,0.00807],"nice":false}},"text":{"field":"t"}}}
]},
{"width":1225,"height":100,
"encoding":{"x":{"field":"i","type":"quantitative","scale":{"domain":[-0.0625,153.0625],"nice":false,"zero":false,"padding":0},"axis":{"values":[0,4,8,12,16,20,24,28,32,36,40,44,48,52,56,60,64,68,72,76,80,84,88,92,96,100,104,108,112,116,120,124,128,132,136,140,144,148,152],"tickCount":60,"labels":false,"ticks":false,"grid":true,"title":null,"minExtent":0,"maxExtent":0}}},
"layer":[
{"data":{"name":"ac"},"mark":{"type":"bar","size":4,"orient":"vertical","xOffset":-0.5,"clip":true},"encoding":{"y":{"field":"v","type":"quantitative","stack":null,"scale":{"domain":[-0.0019665,0.0022791],"nice":false},"axis":{"orient":"right","values":[0.00207,0,-0.00175],"tickCount":5,"labelExpr":"datum.value>0.001?'0.0022791':datum.value<-0.001?'-0.0019665':'0.0000000'","grid":true,"gridOpacity":{"condition":{"test":"datum.value==0","value":1},"value":0},"title":null,"labelOverlap":false,"labelPadding":0}},"color":{"field":"c","type":"nominal","scale":{"domain":["g","r"],"range":["#008000","#ff0000"]},"legend":null}}},
{"data":{"values":[{"i":0.375,"v":0.0019,"t":"ACcust 0.0002198"}]},"mark":{"type":"text","align":"left","baseline":"middle","fontSize":9,"color":"#000000","font":"Noto Sans"},"encoding":{"y":{"field":"v","type":"quantitative","scale":{"domain":[-0.0019665,0.0022791],"nice":false}},"text":{"field":"t"}}}
]},
{"width":1225,"height":100,
"encoding":{"x":{"field":"i","type":"quantitative","scale":{"domain":[-0.0625,153.0625],"nice":false,"zero":false,"padding":0},"axis":{"values":[0,4,8,12,16,20,24,28,32,36,40,44,48,52,56,60,64,68,72,76,80,84,88,92,96,100,104,108,112,116,120,124,128,132,136,140,144,148,152],"tickCount":60,"labelExpr":"datum.value%8==0?['11 Feb 2025','12 Feb 00:00','12 Feb 08:00','12 Feb 16:00','13 Feb 00:00','13 Feb 08:00','13 Feb 16:00','14 Feb 00:00','14 Feb 08:00','14 Feb 16:00','17 Feb 00:00','17 Feb 08:00','17 Feb 16:00','18 Feb 00:00','18 Feb 08:00','18 Feb 16:00','19 Feb 00:00','19 Feb 08:00','',''][datum.value/8]:''","labelAlign":"left","labelBaseline":"top","labelOverlap":false,"labelFlush":false,"labelBound":false,"labelDx":-2,"grid":true,"title":null,"labelPadding":1,"tickOpacity":{"condition":{"test":"datum.value%8==0 && datum.value<=136","value":1},"value":0}}}},
"layer":[
{"data":{"name":"gator"},"mark":{"type":"bar","size":4,"orient":"vertical","xOffset":-0.5,"clip":true},"encoding":{"y":{"field":"v","type":"quantitative","stack":null,"scale":{"domain":[-0.00347,0.003953],"nice":false},"axis":{"orient":"right","values":[0.00359,0,-0.00302],"tickCount":5,"labelExpr":"datum.value>0.001?'0.003953':datum.value<-0.001?'-0.003470':'0.000000'","grid":true,"gridOpacity":{"condition":{"test":"datum.value==0","value":1},"value":0},"zindex":1,"title":null,"labelOverlap":false,"labelPadding":0}},"color":{"field":"c","type":"nominal","scale":{"domain":["g","r"],"range":["#008000","#ff0000"]},"legend":null}}},
{"data":{"values":[{"i":0.375,"v":0.00329,"t":"GatorCust 0.000554 -0.000494"}]},"mark":{"type":"text","align":"left","baseline":"middle","fontSize":9,"color":"#000000","font":"Noto Sans"},"encoding":{"y":{"field":"v","type":"quantitative","scale":{"domain":[-0.00347,0.003953],"nice":false}},"text":{"field":"t"}}}
]}
]}
